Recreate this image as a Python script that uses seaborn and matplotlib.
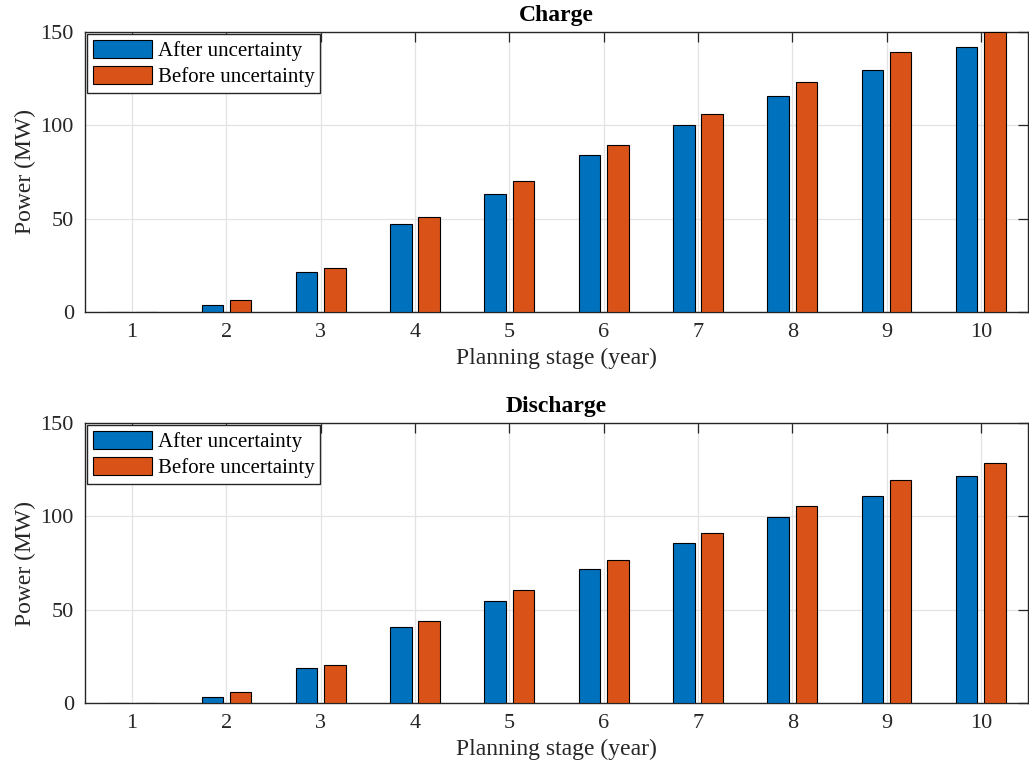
import matplotlib
matplotlib.use("Agg")
import matplotlib.pyplot as plt
import seaborn as sns
import pandas as pd

stages = ["1", "2", "3", "4", "5", "6", "7", "8", "9", "10"]
series_names = ["After uncertainty", "Before uncertainty"]
charge_after = [0.15, 3.5, 21.4, 47.2, 63.2, 83.9, 100.0, 115.8, 129.5, 142.2]
charge_before = [0.15, 6.6, 23.5, 51.0, 70.2, 89.3, 106.2, 123.3, 139.1, 150.0]
discharge_after = [0.15, 3.0, 18.6, 40.5, 54.4, 71.9, 85.8, 99.4, 111.1, 121.8]
discharge_before = [0.15, 5.7, 20.2, 43.9, 60.3, 76.5, 91.1, 105.8, 119.3, 128.8]
titles = ["Charge", "Discharge"]
yticks = [0, 50, 100, 150]
colors = ["#0072BD", "#D95319"]

sns.set_style("white")
plt.rcParams["font.family"] = ["Liberation Serif", "DejaVu Serif"]
ink = "#262626"

fig = plt.figure(figsize=(10.29, 7.71), dpi=100)
ax1 = fig.add_axes([85 / 1029, (771 - 312) / 771, 943 / 1029, 280 / 771])
ax2 = fig.add_axes([85 / 1029, (771 - 703) / 771, 943 / 1029, 280 / 771])

datasets = [(charge_after, charge_before), (discharge_after, discharge_before)]

for ax, (after, before), title in zip([ax1, ax2], datasets, titles):
    df = pd.DataFrame({
        "stage": stages * 2,
        "power": list(after) + list(before),
        "case": [series_names[0]] * len(stages) + [series_names[1]] * len(stages),
    })
    sns.barplot(data=df, x="stage", y="power", hue="case", order=stages,
                hue_order=series_names, palette=colors, width=0.6, gap=0.24,
                edgecolor="black", linewidth=0.8, saturation=1, ax=ax,
                errorbar=None, zorder=3)
    ax.set_xlim(-0.5, len(stages) - 0.5)
    ax.set_ylim(0, 150)
    ax.set_yticks(yticks)
    ax.set_axisbelow(True)
    ax.grid(True, color="#e3e3e3", linewidth=0.9)
    for s in ax.spines.values():
        s.set_visible(True)
        s.set_color(ink)
        s.set_linewidth(1.0)
    ax.tick_params(direction="in", length=7, width=0.9, color=ink,
                   top=True, right=True, labelsize=16, labelcolor=ink, pad=8)
    ax.set_xlabel("Planning stage (year)", fontsize=17, color=ink, labelpad=4)
    ax.set_ylabel("Power (MW)", fontsize=17, color=ink, labelpad=3)
    ax.set_title(title, fontsize=17, fontweight="bold", color="black", pad=8)
    handles, labels = ax.get_legend_handles_labels()
    if ax.get_legend() is not None:
        ax.get_legend().remove()
    leg = ax.legend(handles, labels, loc="upper left", bbox_to_anchor=(0, 1),
                    borderaxespad=0.1, fontsize=15, frameon=True, fancybox=False,
                    edgecolor=ink, framealpha=1, handlelength=2.85,
                    handleheight=0.95, handletextpad=0.25, borderpad=0.28,
                    labelspacing=0.25)
    leg.get_frame().set_linewidth(1.0)
    for t in leg.get_texts():
        t.set_color("black")

fig.savefig("out.png", dpi=100)
